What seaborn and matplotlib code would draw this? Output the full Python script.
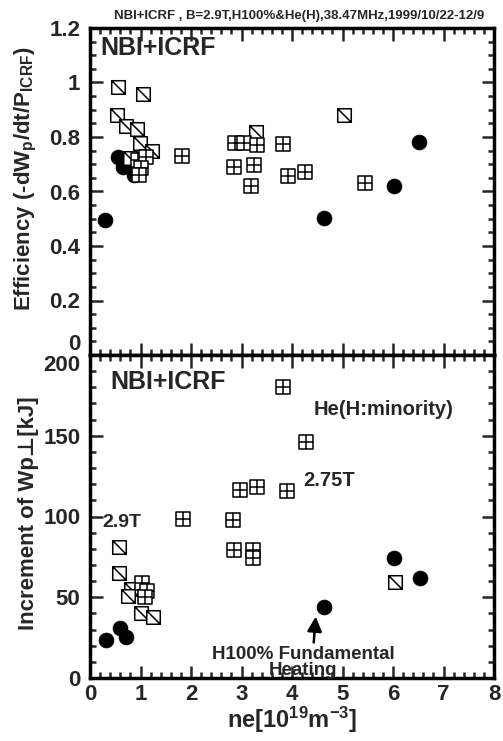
import matplotlib
matplotlib.use("Agg")
import matplotlib.pyplot as plt
from matplotlib.path import Path
from matplotlib.ticker import MultipleLocator
import pandas as pd
import seaborn as sns

# ---- top panel: efficiency ----
eff_circle_ne = [0.30, 0.56, 0.66, 0.87, 4.63, 6.02, 6.52]
eff_circle = [0.495, 0.725, 0.689, 0.660, 0.502, 0.619, 0.780]

eff_diag_ne = [0.56, 1.05, 0.54, 0.72, 0.94, 0.99, 1.23, 0.80, 5.03, 3.28]
eff_diag = [0.982, 0.956, 0.879, 0.839, 0.828, 0.777, 0.750, 0.722, 0.879, 0.817]

eff_plus_ne = [0.95, 1.10, 1.00, 0.97, 1.83, 2.88, 3.04, 3.30, 2.86, 3.24,
               3.18, 3.82, 3.92, 4.25, 5.45]
eff_plus = [0.715, 0.725, 0.685, 0.660, 0.729, 0.777, 0.777, 0.770, 0.689, 0.696,
            0.619, 0.773, 0.656, 0.671, 0.630]

# ---- bottom panel: increment of Wp ----
wp_circle_ne = [0.32, 0.60, 0.72, 4.63, 6.02, 6.54]
wp_circle = [23.5, 31, 25.5, 44, 74, 62]

wp_diag_ne = [0.58, 0.58, 0.82, 0.76, 1.01, 1.25, 6.04]
wp_diag = [81, 65, 55, 51, 40, 38, 59.5]

wp_plus_ne = [1.03, 1.12, 1.09, 1.85, 2.84, 2.98, 3.30, 3.90, 3.82, 4.27,
              2.86, 3.22, 3.22]
wp_plus = [59, 54, 50, 98.5, 98, 116.5, 118, 116, 180, 146, 79, 79, 74]

eff_ticks = [0, 0.2, 0.4, 0.6, 0.8, 1.0, 1.2]
eff_ticklabels = ['0', '0.2', '0.4', '0.6', '0.8', '1', '1.2']
wp_ticks = [0, 50, 100, 150, 200]
ne_ticks = [0, 1, 2, 3, 4, 5, 6, 7, 8]

sns.set_style("ticks")
plt.rcParams['font.family'] = ['Liberation Sans', 'DejaVu Sans']
plt.rcParams['font.weight'] = 'bold'
plt.rcParams['mathtext.fontset'] = 'custom'
plt.rcParams['mathtext.rm'] = 'Liberation Sans:bold'
plt.rcParams['mathtext.it'] = 'Liberation Sans:bold'
plt.rcParams['mathtext.bf'] = 'Liberation Sans:bold'

# squares with a diagonal / with a cross inside
sq = [(-1, -1), (1, -1), (1, 1), (-1, 1), (-1, -1)]
sq_codes = [Path.MOVETO, Path.LINETO, Path.LINETO, Path.LINETO, Path.CLOSEPOLY]
diag_marker = Path(sq + [(-1, 1), (1, -1)], sq_codes + [Path.MOVETO, Path.LINETO])
plus_marker = Path(sq + [(0, -1), (0, 1), (-1, 0), (1, 0)],
                   sq_codes + [Path.MOVETO, Path.LINETO, Path.MOVETO, Path.LINETO])

fig = plt.figure(figsize=(5.03, 7.41), dpi=100)
ax1 = fig.add_axes([90/503, 1 - 355/741, 404/503, 327/741])
ax2 = fig.add_axes([90/503, 1 - 678/741, 404/503, 323/741])


def draw(ax, cx, cy, dx, dy, px, py):
    sns.scatterplot(x=cx, y=cy, ax=ax, marker='o', s=115, color='black',
                    edgecolor='black', linewidth=0.5, zorder=3)
    sns.scatterplot(x=dx, y=dy, ax=ax, marker=diag_marker, s=95, color='white',
                    edgecolor='black', linewidth=1.1, zorder=4)
    sns.scatterplot(x=px, y=py, ax=ax, marker=plus_marker, s=95, color='white',
                    edgecolor='black', linewidth=1.1, zorder=4)


def style(ax):
    ax.set_xlim(0, 8)
    ax.set_xticks(ne_ticks)
    ax.xaxis.set_minor_locator(MultipleLocator(0.2))
    ax.tick_params(which='both', direction='in', top=True, right=True,
                   width=1.8, labelsize=16)
    ax.tick_params(which='major', length=9)
    ax.tick_params(which='minor', length=4.5)
    ax.tick_params(axis='y', pad=7)
    ax.tick_params(axis='x', pad=4)
    for sp in ax.spines.values():
        sp.set_linewidth(2.5)
        sp.set_color('black')


draw(ax1, eff_circle_ne, eff_circle, eff_diag_ne, eff_diag, eff_plus_ne, eff_plus)
draw(ax2, wp_circle_ne, wp_circle, wp_diag_ne, wp_diag, wp_plus_ne, wp_plus)

style(ax1)
style(ax2)

ax1.set_ylim(0, 1.2)
ax1.set_yticks(eff_ticks)
ax1.set_yticklabels(eff_ticklabels)
ax1.yaxis.set_minor_locator(MultipleLocator(0.05))
ax1.tick_params(labelbottom=False)
ax1.set_xlabel('')
ax1.set_ylabel(r'Efficiency (-dW$_p$/dt/P$_{ICRF}$)', fontsize=16, fontweight='bold')
ax1.yaxis.set_label_coords(-0.127, 0.54)
# the shared 0 / 200 labels sit above / below the joint line as in the original
ax1.get_yticklabels()[0].set_verticalalignment('bottom')

ax2.set_ylim(0, 200)
ax2.set_yticks(wp_ticks)
ax2.set_yticklabels([str(t) for t in wp_ticks])
ax2.yaxis.set_minor_locator(MultipleLocator(10))
ax2.get_yticklabels()[-1].set_verticalalignment('top')
ax2.set_xlabel(r'ne[10$^{19}$m$^{-3}$]', fontsize=17, fontweight='bold', labelpad=0)
# plain text so the ⊥ falls back to DejaVu Sans (mathtext gave a wrong glyph)
ax2.set_ylabel('Increment of Wp\u22a5[kJ]', fontsize=16, fontweight='bold')
ax2.yaxis.set_label_coords(-0.127, 0.51)

ax1.text(0.025, 0.94, 'NBI+ICRF', transform=ax1.transAxes, fontsize=18,
         fontweight='bold', va='center')
ax2.text(0.05, 0.915, 'NBI+ICRF', transform=ax2.transAxes, fontsize=18,
         fontweight='bold', va='center')

ax2.text(4.42, 166, 'He(H:minority)', fontsize=14.5, fontweight='bold', va='center')
ax2.text(4.22, 122.6, '2.75T', fontsize=14.5, fontweight='bold', va='center')
ax2.text(0.24, 96, '2.9T', fontsize=14, fontweight='bold', va='center')
ax2.text(4.22, 9.5, 'H100% Fundamental\nHeating', ha='center', va='center',
         fontsize=13.5, fontweight='bold', linespacing=0.95)
ax2.annotate('', xy=(4.47, 38), xytext=(4.43, 22),
             arrowprops=dict(arrowstyle='-|>', color='black', lw=1.8,
                             mutation_scale=22, shrinkA=0, shrinkB=0))

fig.text(114/503, 1 - 16/741,
         'NBI+ICRF , B=2.9T,H100%&He(H),38.47MHz,1999/10/22-12/9',
         fontsize=9.5, fontweight='bold', va='center')

fig.savefig('out.png', dpi=100)
